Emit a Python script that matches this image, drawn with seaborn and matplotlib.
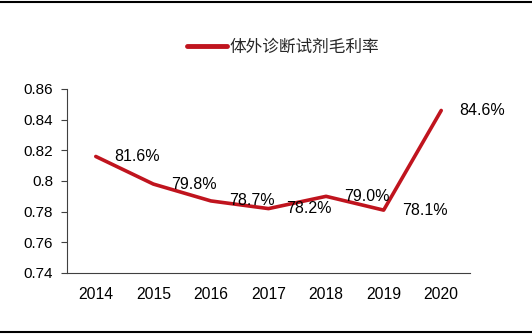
import matplotlib
matplotlib.use("Agg")
import matplotlib.pyplot as plt
import seaborn as sns
import numpy as np
import pandas as pd
from matplotlib.lines import Line2D

years = ["2014", "2015", "2016", "2017", "2018", "2019", "2020"]
margin = [0.816, 0.798, 0.787, 0.782, 0.790, 0.781, 0.846]
labels = ["81.6%", "79.8%", "78.7%", "78.2%", "79.0%", "78.1%", "84.6%"]
series_name = "体外诊断试剂毛利率"
yticks = [0.74, 0.76, 0.78, 0.8, 0.82, 0.84, 0.86]
ytick_labels = ["0.74", "0.76", "0.78", "0.8", "0.82", "0.84", "0.86"]

sns.set_theme(style="white")
plt.rcParams['font.family'] = ['Liberation Sans', 'Noto Sans CJK SC', 'DejaVu Sans']

df = pd.DataFrame({"idx": np.arange(len(years)), "val": margin, "series": series_name})

fig = plt.figure(figsize=(5.32, 3.34), dpi=100)
ax = fig.add_axes([67/532, 61/334, (470-67)/532, (273-89)/334])
color = "#C0141E"
sns.lineplot(data=df, x="idx", y="val", hue="series", palette=[color], ax=ax,
             linewidth=2.6, legend=False)

for i, (v, lab) in enumerate(zip(margin, labels)):
    ax.annotate(lab, (i, v), xytext=(13, 0), textcoords="offset points",
                ha="left", va="center", fontsize=11.5, color="black")

ax.set_xlim(-0.5, len(years) - 0.5)
ax.set_ylim(0.74, 0.86)
ax.set_yticks(yticks)
ax.set_yticklabels(ytick_labels, fontsize=11, color="black")
ax.set_xticks(np.arange(len(years)))
ax.set_xticklabels(years, fontsize=11.3, color="black")
ax.set_xticks(np.arange(len(years) + 1) - 0.5, minor=True)
ax.tick_params(axis="x", which="major", length=0, pad=10)
ax.tick_params(axis="x", which="minor", direction="in", length=4, width=0.8, color="#404040")
ax.tick_params(axis="y", which="major", direction="out", length=4, width=0.8, color="#404040", left=True, pad=6)
ax.set_xlabel("")
ax.set_ylabel("")
for s in ["top", "right"]:
    ax.spines[s].set_visible(False)
for s in ["left", "bottom"]:
    ax.spines[s].set_color("#404040")
    ax.spines[s].set_linewidth(0.8)

handle = Line2D([], [], color=color, linewidth=3.5)
fig.legend([handle], [series_name], loc="center", bbox_to_anchor=(283/532, 1 - 47/334),
           frameon=False, handlelength=2.4, handletextpad=0.2,
           prop={"family": ["Noto Sans CJK SC"], "size": 12})

fig.add_artist(Line2D([0, 1], [1 - 1.5/334, 1 - 1.5/334], transform=fig.transFigure, color="black", linewidth=1.5))
fig.add_artist(Line2D([0, 1], [1 - 332/334, 1 - 332/334], transform=fig.transFigure, color="black", linewidth=1.5))

fig.savefig("out.png", dpi=100)
